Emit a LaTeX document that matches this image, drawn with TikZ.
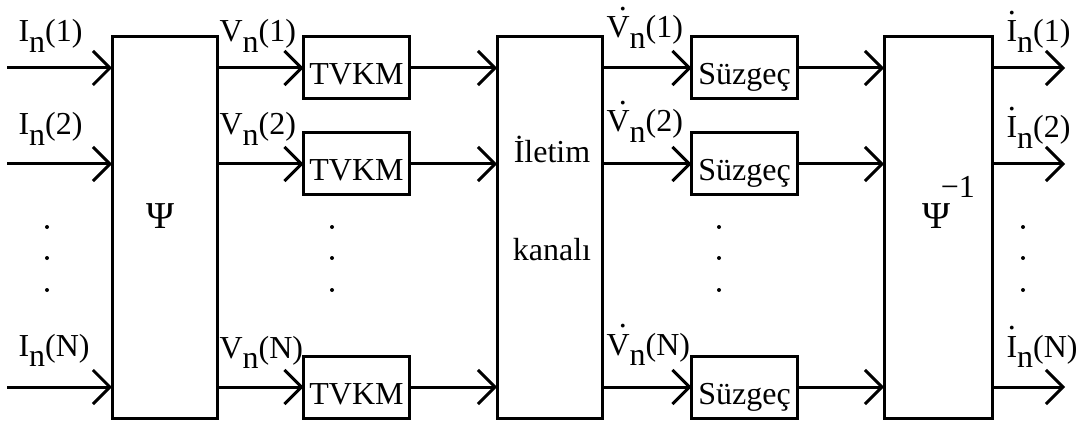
\documentclass[tikz,border=0pt]{standalone}
\usepackage{fontspec}
\setmainfont{Liberation Serif}
\usetikzlibrary{arrows.meta,positioning}
\newcommand{\sig}[2]{#1\raisebox{-0.33em}{n}(#2)}
\newcommand{\dt}[2][0em]{{\ooalign{#2\cr\hfil\kern#1\raisebox{0.85em}{.}\hfil\cr}}}
\newcommand{\bigpsi}{{\fontsize{38}{40}\selectfont Ψ}}

\begin{document}
\begin{tikzpicture}[x=1pt,y=-1pt,line width=3pt,
    every node/.style={font=\fontsize{32}{36}\selectfont},
    bigbox/.style={draw,rectangle,minimum width=105pt,minimum height=381pt,inner sep=0pt,outer sep=0pt},
    smallbox/.style={draw,rectangle,minimum width=106pt,minimum height=62pt,inner sep=0pt,outer sep=0pt,text height=34pt,text depth=0pt},
    sig/.style={anchor=base west,inner sep=0pt},
    txt/.style={anchor=base,inner sep=0pt},
    arr/.style={-{Straight Barb[length=17pt,width=34pt]}}]
    \useasboundingbox (0,0) rectangle (1077,425);
    % blocks
    \node [bigbox] (psi) at (164.5,227.5) {};
    \node [bigbox] (kanal) at (549.5,227.5) {};
    \node [bigbox,minimum width=108pt] (psiinv) at (938,227.5) {};
    \node [smallbox] (tv1) at (356.5,68) {TVKM};
    \node [smallbox] (tv2) at (356.5,164) {TVKM};
    \node [smallbox] (tvN) at (356.5,387) {TVKM};
    \node [smallbox] (sz1) at (744.5,68) {Süzgeç};
    \node [smallbox] (sz2) at (744.5,164) {Süzgeç};
    \node [smallbox] (szN) at (744.5,387) {Süzgeç};
    \node [txt] (psit) at (161,228) {\bigpsi};
    \node [txt] (kt1) at (552,163) {İletim};
    \node [txt] (kt2) at (552,260) {kanalı};
    \node [sig] (psiinvt) at (921,228) {\bigpsi\raisebox{0.94em}{\kern-0.3em−1}};
    % free ends
    \coordinate (in1) at (7,68);
    \coordinate (in2) at (7,164);
    \coordinate (inN) at (7,387);
    \coordinate (out1) at (1065,68);
    \coordinate (out2) at (1065,164);
    \coordinate (outN) at (1065,387);
    % row 1
    \draw [arr] (in1) -- (psi.west |- in1);
    \draw [arr] (psi.east |- tv1) -- (tv1.west);
    \draw [arr] (tv1.east) -- (kanal.west |- tv1);
    \draw [arr] (kanal.east |- sz1) -- (sz1.west);
    \draw [arr] (sz1.east) -- (psiinv.west |- sz1);
    \draw [arr] (psiinv.east |- out1) -- (out1);
    % row 2
    \draw [arr] (in2) -- (psi.west |- in2);
    \draw [arr] (psi.east |- tv2) -- (tv2.west);
    \draw [arr] (tv2.east) -- (kanal.west |- tv2);
    \draw [arr] (kanal.east |- sz2) -- (sz2.west);
    \draw [arr] (sz2.east) -- (psiinv.west |- sz2);
    \draw [arr] (psiinv.east |- out2) -- (out2);
    % row N
    \draw [arr] (inN) -- (psi.west |- inN);
    \draw [arr] (psi.east |- tvN) -- (tvN.west);
    \draw [arr] (tvN.east) -- (kanal.west |- tvN);
    \draw [arr] (kanal.east |- szN) -- (szN.west);
    \draw [arr] (szN.east) -- (psiinv.west |- szN);
    \draw [arr] (psiinv.east |- outN) -- (outN);
    % signal labels
    \node [sig] (li1) at (17,42) {\sig{I}{1}};
    \node [sig] (li2) at (17,135) {\sig{I}{2}};
    \node [sig] (liN) at (17,356) {\sig{I}{N}};
    \node [sig] (lv1) at (218,42) {\sig{V}{1}};
    \node [sig] (lv2) at (218,135) {\sig{V}{2}};
    \node [sig] (lvN) at (218,358) {\sig{V}{N}};
    \node [sig] (lw1) at (605,38) {\sig{\dt[0.3em]{V}}{1}};
    \node [sig] (lw2) at (605,132) {\sig{\dt[0.3em]{V}}{2}};
    \node [sig] (lwN) at (605,355) {\sig{\dt[0.3em]{V}}{N}};
    \node [sig] (lo1) at (1005,42) {\sig{\dt{I}}{1}};
    \node [sig] (lo2) at (1005,138) {\sig{\dt{I}}{2}};
    \node [sig] (loN) at (1005,357) {\sig{\dt{I}}{N}};
    % dots
    \fill (47,227) circle (2pt);
    \fill (47,258) circle (2pt);
    \fill (47,290) circle (2pt);
    \fill (332,227) circle (2pt);
    \fill (332,258) circle (2pt);
    \fill (332,290) circle (2pt);
    \fill (719,227) circle (2pt);
    \fill (719,258) circle (2pt);
    \fill (719,290) circle (2pt);
    \fill (1023,227) circle (2pt);
    \fill (1023,258) circle (2pt);
    \fill (1023,290) circle (2pt);
\end{tikzpicture}
\end{document}
